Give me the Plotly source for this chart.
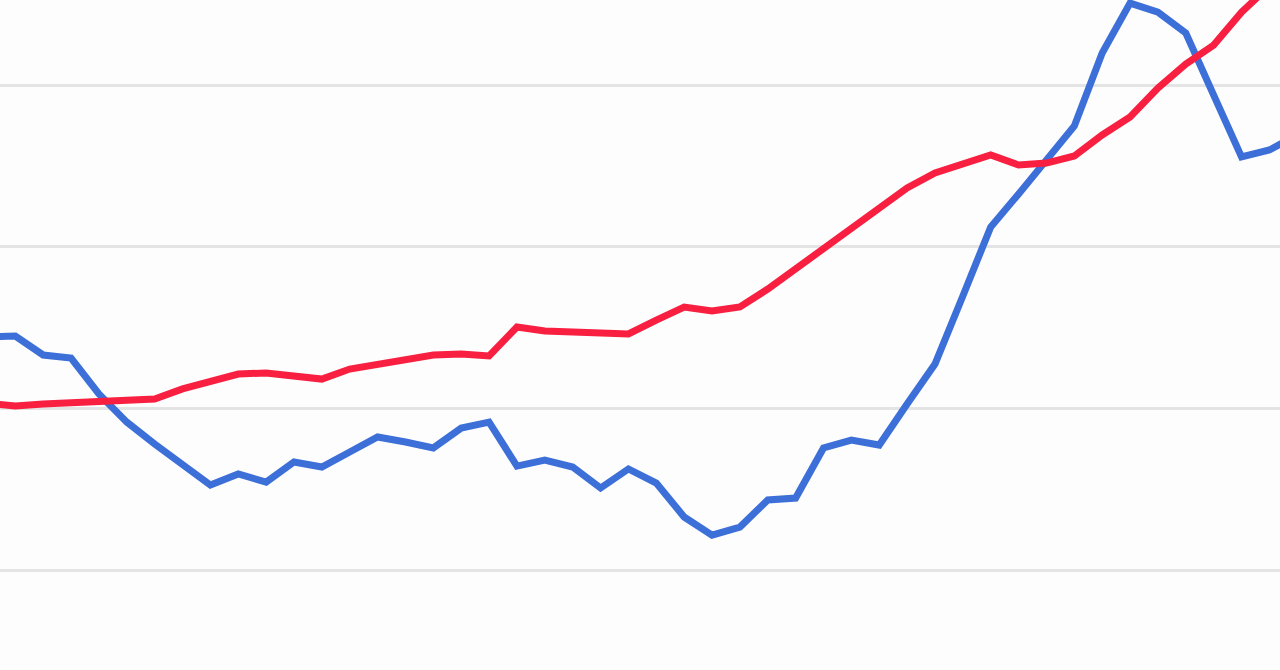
import plotly.graph_objects as go

# index positions (monthly steps)
periods = list(range(-1, 47))

series_blue = [14.41, 14.47, 13.30, 13.11, 10.89, 9.15, 7.79, 6.49, 5.26, 5.94,
               5.44, 6.68, 6.37, 7.30, 8.23, 7.92, 7.55, 8.78, 9.15, 6.43,
               6.80, 6.37, 5.07, 6.25, 5.38, 3.28, 2.16, 2.66, 4.33, 4.45,
               7.55, 8.04, 7.73, 10.27, 12.74, 16.95, 21.22, 23.26, 25.36, 27.46,
               31.98, 35.07, 34.51, 33.22, 29.38, 25.55, 25.98, 26.91]

series_red = [10.33, 10.14, 10.27, 10.33, 10.39, 10.45, 10.58, 11.20, 11.63, 12.12,
              12.19, 12.00, 11.81, 12.43, 12.74, 12.99, 13.30, 13.36, 13.24, 15.03,
              14.78, 14.72, 14.66, 14.60, 15.46, 16.27, 16.02, 16.27, 17.38, 18.62,
              19.79, 21.03, 22.27, 23.63, 24.56, 25.11, 25.67, 25.05, 25.17, 25.61,
              26.91, 28.02, 29.81, 31.30, 32.47, 34.51, 36.18, 37.73]

grid_values = [0, 10, 20, 30]

fig = go.Figure()
fig.add_trace(go.Scatter(x=periods, y=series_blue, mode="lines",
                         line=dict(color="#3c6fd8", width=7), showlegend=False,
                         hoverinfo="skip"))
fig.add_trace(go.Scatter(x=periods, y=series_red, mode="lines",
                         line=dict(color="#f81f40", width=7), showlegend=False,
                         hoverinfo="skip"))

fig.update_layout(
    width=1280, height=670,
    margin=dict(l=0, r=0, t=0, b=0),
    paper_bgcolor="#fdfdfd", plot_bgcolor="#fdfdfd",
    showlegend=False,
    xaxis=dict(range=[-0.549, 45.38], showgrid=False, zeroline=False,
               showticklabels=False, fixedrange=True),
    yaxis=dict(range=[-6.185, 35.26], tickvals=grid_values, showgrid=True,
               gridcolor="#e4e4e4", gridwidth=3, zeroline=False,
               showticklabels=False, fixedrange=True),
)

fig.write_html("out.html", config={"displayModeBar": False},
               post_script="document.body.style.margin='0';document.body.style.overflow='hidden';document.body.style.background='#fdfdfd';")
